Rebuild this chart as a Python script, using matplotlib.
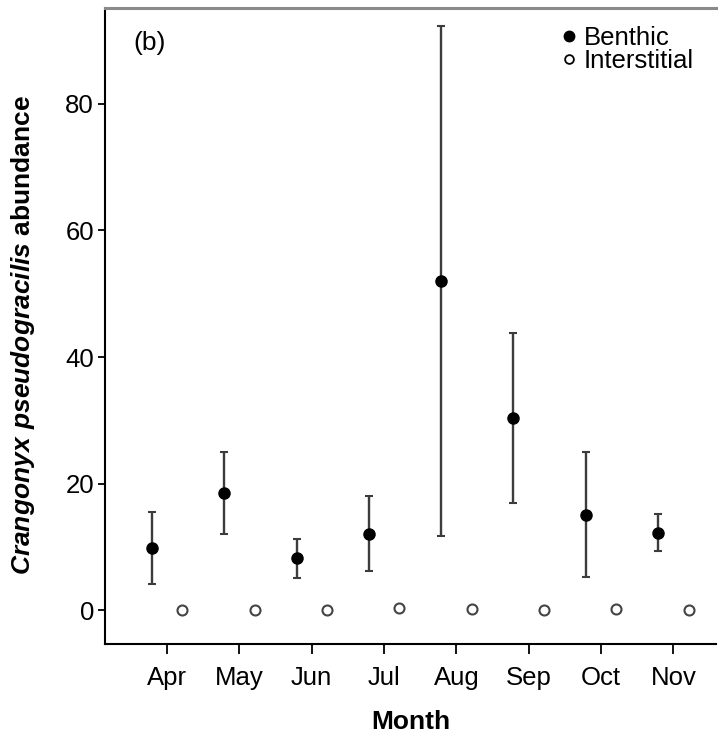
import matplotlib
matplotlib.use("Agg")
import matplotlib.pyplot as plt
import numpy as np
from matplotlib.lines import Line2D

plt.rcParams['font.family'] = ['Liberation Sans', 'DejaVu Sans']
plt.rcParams['mathtext.fontset'] = 'custom'
plt.rcParams['mathtext.bfit'] = 'Liberation Sans:italic:bold'
plt.rcParams['mathtext.rm'] = 'Liberation Sans'

months = ['Apr', 'May', 'Jun', 'Jul', 'Aug', 'Sep', 'Oct', 'Nov']
benthic_mean = [9.8, 18.6, 8.2, 12.1, 52.0, 30.4, 15.1, 12.3]
benthic_low = [4.1, 12.0, 5.1, 6.3, 11.8, 17.0, 5.3, 9.4]
benthic_high = [15.5, 25.0, 11.2, 18.0, 92.2, 43.8, 25.0, 15.3]
interstitial_mean = [0.0, 0.0, 0.0, 0.4, 0.2, 0.0, 0.2, 0.0]
yticks = [0, 20, 40, 60, 80]

W, H = 724, 740
fig = plt.figure(figsize=(W / 100, H / 100), dpi=100)
ax = fig.add_axes([105 / W, (H - 644) / H, (716 - 105) / W, (644 - 8) / H])

x = np.arange(1, len(months) + 1)
off = 0.21
bm = np.array(benthic_mean)
yerr = [bm - np.array(benthic_low), np.array(benthic_high) - bm]
ax.errorbar(x - off, bm, yerr=yerr, fmt='none', ecolor='#3c3c3c',
            elinewidth=1.7, capsize=2.6, capthick=1.5, zorder=2)
ax.plot(x - off, bm, 'o', color='black', markersize=8, zorder=3)
ax.plot(x + off, interstitial_mean, 'o', markerfacecolor='white',
        markeredgecolor='#444444', markeredgewidth=1.5, markersize=7.2, zorder=3)

ax.set_xlim(0.142, 8.59)
ax.set_ylim(-5.3, 95.1)
ax.set_xticks(x)
ax.set_xticklabels(months)
ax.set_yticks(yticks)
ax.tick_params(axis='x', length=7, width=1.3, direction='out', labelsize=18.5, pad=9)
ax.tick_params(axis='y', length=5, width=1.3, direction='out', labelsize=18.5, pad=3)

ax.spines['right'].set_visible(False)
ax.spines['top'].set_color('#8a8a8a')
ax.spines['top'].set_linewidth(2.2)
ax.spines['left'].set_linewidth(1.5)
ax.spines['bottom'].set_linewidth(1.5)

ax.set_xlabel('Month', fontsize=19, fontweight='bold', labelpad=14)
ax.set_ylabel(r'$\mathbfit{Crangonyx\ pseudogracilis}$ abundance',
              fontsize=19, fontweight='bold')
ax.yaxis.set_label_coords(-0.112, 0.486)

ax.text(0.046, 0.945, '(b)', transform=ax.transAxes, fontsize=19,
        ha='left', va='center')

handles = [
    Line2D([], [], marker='o', linestyle='none', color='black', markersize=7.5),
    Line2D([], [], marker='o', linestyle='none', markerfacecolor='white',
           markeredgecolor='black', markeredgewidth=1.3, markersize=6.3),
]
leg = ax.legend(handles, ['Benthic', 'Interstitial'], loc='upper left',
                bbox_to_anchor=(563 / W, (H - 26) / H),
                bbox_transform=fig.transFigure, frameon=False,
                fontsize=18.5, handlelength=0.5, handletextpad=0.3,
                labelspacing=-0.05, borderpad=0, borderaxespad=0)

fig.savefig('out.png', dpi=100)
